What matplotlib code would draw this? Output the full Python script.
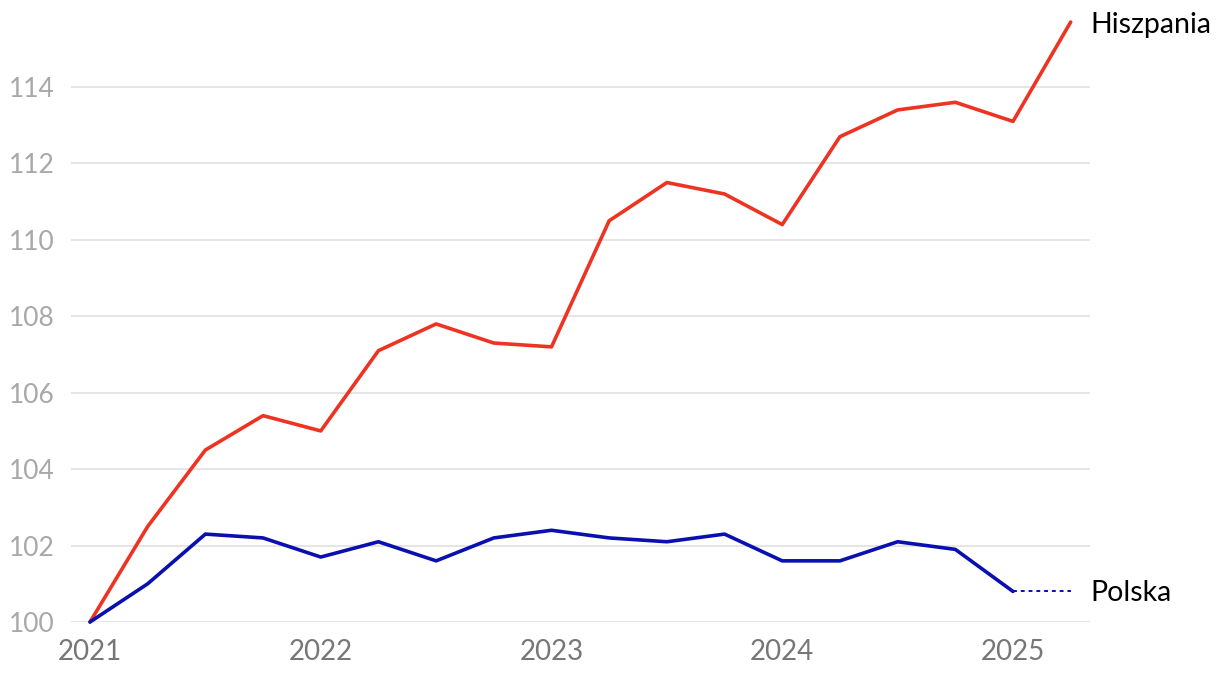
import matplotlib
matplotlib.use("Agg")
import matplotlib.pyplot as plt

plt.rcParams['font.family'] = ['Lato', 'DejaVu Sans']

quarters = [2021 + i * 0.25 for i in range(18)]
hiszpania = [100.0, 102.5, 104.5, 105.4, 105.0, 107.1, 107.8, 107.3, 107.2,
             110.5, 111.5, 111.2, 110.4, 112.7, 113.4, 113.6, 113.1, 115.7]
polska = [100.0, 101.0, 102.3, 102.2, 101.7, 102.1, 101.6, 102.2, 102.4,
          102.2, 102.1, 102.3, 101.6, 101.6, 102.1, 101.9, 100.8]
polska_ext_x = [2025.0, 2025.25]
polska_ext_y = [100.8, 100.8]
yticks = [100, 102, 104, 106, 108, 110, 112, 114]
xticks = [2021, 2022, 2023, 2024, 2025]
red = '#ee3322'
blue = '#0a10b0'

fig = plt.figure(figsize=(12.2, 6.78), dpi=100)
ax = fig.add_axes([71/1220, 56/678, 1019/1220, 612/678])
ax.plot(quarters, hiszpania, color=red, lw=2.6, solid_joinstyle='round', solid_capstyle='round', clip_on=False)
ax.plot(quarters[:len(polska)], polska, color=blue, lw=2.6, solid_joinstyle='round', solid_capstyle='round', clip_on=False)
ax.plot(polska_ext_x, polska_ext_y, color=blue, lw=1.4, linestyle=(0, (2, 2)), clip_on=False)

ax.annotate('Hiszpania', (2025.25, 115.7), xytext=(20, -3), textcoords='offset pixels',
            fontsize=20.5, color='black', va='center', ha='left', annotation_clip=False)
ax.annotate('Polska', (2025.25, 100.8), xytext=(20, -2), textcoords='offset pixels',
            fontsize=20.5, color='black', va='center', ha='left', annotation_clip=False)

ax.set_xlim(2021 - 19/230.75, 2025 + 77/230.75)
ax.set_ylim(100, 100 + 612/38.214)
ax.set_yticks(yticks)
ax.set_xticks(xticks)
ax.set_yticklabels([str(v) for v in yticks])
ax.set_xticklabels([str(v) for v in xticks])
ax.grid(axis='y', color='#e3e3e3', lw=1.3)
ax.set_axisbelow(True)
for s in ax.spines.values():
    s.set_visible(False)
ax.tick_params(axis='y', length=0, pad=12, labelsize=19, labelcolor='#a8a8a8')
ax.tick_params(axis='x', length=0, pad=12, labelsize=20, labelcolor='#777777')

fig.savefig('out.png', dpi=100)
